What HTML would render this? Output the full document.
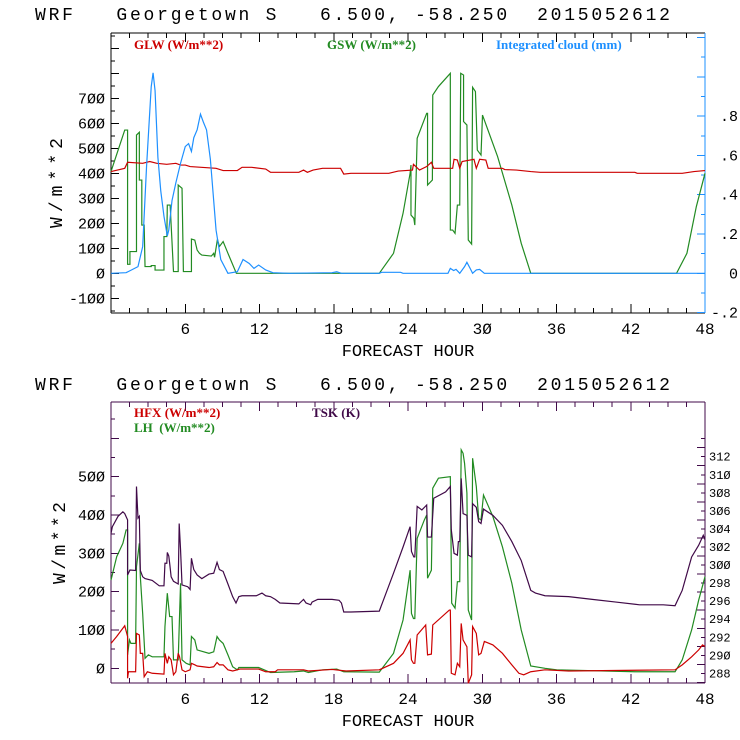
<!DOCTYPE html>
<html><head><meta charset="utf-8"><style>
html,body{margin:0;padding:0;background:#fff;}
svg{display:block;}
text{font-family:"Liberation Mono","DejaVu Sans Mono",monospace;white-space:pre;}
.lg{font-family:"Liberation Serif",serif;font-size:13px;font-weight:bold;}
</style></head>
<body>
<svg id="chart" width="740" height="740" viewBox="0 0 740 740" xmlns="http://www.w3.org/2000/svg" xml:space="preserve">
<rect width="740" height="740" fill="#fff"/>
</svg>
<script>
// ---- data (hour, value) ----
const hourTicks = [6,12,18,24,30,36,42,48];
const topLeftTicks = [-100,0,100,200,300,400,500,600,700];
const topRightTicks = [-0.2,0,0.2,0.4,0.6,0.8];
const topRightLabels = ['-.2','0','.2','.4','.6','.8'];
const botLeftTicks = [0,100,200,300,400,500];
const botRightTicks = [288,290,292,294,296,298,300,302,304,306,308,310,312];

const gswData = [[0,407],[1.11,573],[1.34,573],[1.34,36],[1.53,36],[1.53,87],[2.06,87],[2.06,553],[2.29,564],[2.29,373],[2.49,373],[2.49,193],[2.68,193],[2.75,27],[3.25,27],[3.25,31],[3.56,31],[3.56,13],[4.28,13],[4.28,147],[4.51,147],[4.55,273],[4.78,273],[5.05,7],[5.43,7],[5.43,353],[5.74,340],[5.85,7],[6.5,7],[6.5,137],[6.77,133],[6.96,93],[7.15,80],[7.34,73],[8.11,69],[8.3,80],[8.37,64],[8.6,136],[8.76,107],[9.06,127],[9.45,80],[10.13,0],[21.68,0],[22.83,80],[23.6,240],[24.17,400],[24.24,433],[24.24,233],[24.47,220],[24.55,193],[24.74,540],[25.51,640],[25.58,640],[25.58,353],[25.97,373],[26.0,713],[26.46,747],[27.42,800],[27.42,173],[27.61,173],[27.8,160],[27.99,273],[28.18,273],[28.26,800],[28.49,793],[28.49,607],[28.76,593],[28.87,133],[29.14,117],[29.22,744],[29.45,727],[29.6,493],[29.9,473],[30.02,633],[31.24,467],[32.39,273],[33.15,120],[33.92,0],[45.7,0],[46.54,80],[47.3,267],[48,400]];

const glwData = [[0,407],[1.11,420],[1.34,444],[2.56,440],[3.13,447],[3.7,440],[4.5,436],[5.24,440],[5.62,433],[6.0,433],[6.39,427],[8.49,420],[9.06,411],[10.21,411],[10.59,424],[11.36,424],[12.5,417],[12.89,404],[15.18,404],[15.56,413],[15.87,404],[16.33,413],[17.09,420],[18.55,420],[18.81,397],[19.39,400],[22.45,400],[23.21,409],[24.36,413],[24.44,436],[24.93,413],[25.51,427],[25.89,444],[26.08,420],[27.61,420],[27.72,456],[27.99,453],[28.18,420],[28.37,447],[29.33,456],[29.52,420],[29.79,456],[30.29,453],[30.48,420],[31.63,420],[31.82,415],[32.77,413],[33.92,407],[34.68,404],[42.33,404],[42.52,400],[46.16,400],[47.11,407],[48,411]];

const cloudData = [[0,0],[1.22,0.003],[2.18,0.034],[2.56,0.136],[2.87,0.54],[3.25,0.95],[3.4,1.02],[3.56,0.93],[3.79,0.59],[4.02,0.42],[4.28,0.29],[4.55,0.19],[4.67,0.22],[4.93,0.37],[5.24,0.46],[5.62,0.56],[6.0,0.645],[6.27,0.66],[6.5,0.62],[6.69,0.69],[6.96,0.73],[7.23,0.81],[7.46,0.77],[7.72,0.73],[8.03,0.58],[8.49,0.22],[8.87,0.07],[9.45,0],[10.21,0.008],[10.67,0.07],[11.17,0.05],[11.55,0.025],[11.93,0.042],[12.5,0.017],[13.08,0.003],[14.4,0],[17.86,0.003],[18.24,0.008],[18.62,0],[21.68,0],[21.87,0.005],[23.4,0.005],[23.6,0],[27.23,0],[27.42,0.025],[27.69,0.014],[27.88,0.02],[28.18,0],[28.57,0.034],[28.76,0.056],[29.02,0.025],[29.22,0],[29.52,0.017],[29.79,0.02],[30.17,0],[48,0]];

const tskData = [[0,303.5],[0.11,304.25],[0.57,305.4],[0.96,305.9],[1.11,305.7],[1.34,305.0],[1.34,298.9],[1.53,299.45],[1.99,299.4],[2.06,308.7],[2.18,305.2],[2.29,305.4],[2.37,299.4],[2.56,298.7],[2.75,298.5],[3.33,298.3],[3.9,297.7],[4.28,297.7],[4.36,300.2],[4.51,300.2],[4.55,301.4],[4.67,301.0],[4.74,300.2],[4.86,298.7],[5.05,298.2],[5.43,297.9],[5.51,304.6],[5.62,301.7],[5.74,297.8],[6.2,297.6],[6.39,297.3],[6.5,300.75],[6.69,299.5],[6.96,298.9],[7.34,298.5],[7.92,299],[8.3,299.1],[8.57,300.3],[8.76,299.5],[9.06,299.3],[9.45,297.9],[9.83,296.5],[10.1,295.8],[10.33,296.5],[10.59,296.6],[11.74,296.6],[12.2,296.9],[12.5,296.6],[12.89,296.5],[13.27,296.2],[13.65,295.8],[15.18,295.7],[15.56,296.2],[15.76,295.8],[16.14,295.6],[16.25,295.9],[16.71,296.2],[17.86,296.2],[18.43,296.1],[18.62,295.8],[18.81,294.8],[19.39,294.8],[21.68,294.9],[22.83,299.1],[23.6,302],[24.17,304.25],[24.28,301.5],[24.47,300.9],[24.55,300.9],[24.74,306.5],[25.12,306.1],[25.51,306.65],[25.58,303.1],[25.89,303.1],[26.08,307.4],[27.04,308.1],[27.42,308.7],[27.5,303.9],[27.72,301.3],[27.99,301.1],[28.07,302.6],[28.18,302.6],[28.3,309.6],[28.45,305.7],[28.76,305.5],[28.87,301.1],[29.14,300.9],[29.22,306.8],[29.52,306.4],[29.71,304.8],[29.9,304.6],[30.1,306.2],[30.86,305.5],[31.63,304.4],[32.39,302.6],[33.15,300.5],[33.92,297.2],[34.3,296.9],[35.07,296.6],[36.98,296.5],[38.89,296.2],[40.8,295.9],[42.71,295.6],[44.63,295.6],[45.58,295.5],[46.16,297.2],[46.92,300.9],[47.49,302.2],[47.86,303.3],[48,302.8]];

const lhData = [[0,230],[0.46,291],[0.96,326],[1.22,361],[1.34,361],[1.34,35],[1.49,74],[1.61,65],[1.99,65],[2.06,265],[2.29,326],[2.37,239],[2.56,143],[2.75,26],[3.02,35],[3.33,30],[4.28,30],[4.36,109],[4.55,196],[4.74,135],[4.93,135],[5.05,22],[5.43,22],[5.62,222],[5.74,22],[6.08,13],[6.39,9],[6.5,83],[6.77,74],[6.96,48],[7.92,39],[8.3,43],[8.57,83],[8.76,74],[9.06,65],[9.45,35],[9.83,4],[10.21,-4],[10.33,2],[11.93,2],[12.89,-11],[14.8,-9],[15.56,-7],[15.95,-11],[17.09,-4],[18.24,-2],[18.81,-9],[21.68,-10],[22.83,39],[23.6,126],[24.17,256],[24.28,143],[24.44,130],[24.55,130],[24.74,339],[25.32,387],[25.51,400],[25.58,235],[25.89,256],[26.0,470],[26.46,496],[27.42,500],[27.53,170],[27.8,157],[27.99,226],[28.18,226],[28.3,570],[28.45,561],[28.57,535],[28.76,457],[28.87,152],[29.14,126],[29.22,548],[29.52,474],[29.71,391],[29.9,387],[30.1,452],[30.86,396],[31.63,317],[32.39,222],[33.15,100],[33.92,6],[35.07,0],[36.02,-4],[42.33,-9],[45.58,-9],[46.16,22],[46.92,100],[47.49,178],[48,239]];

const hfxData = [[0,65],[0.46,83],[1.11,111],[1.34,83],[1.34,-26],[1.41,-9],[1.99,-9],[2.06,91],[2.29,87],[2.37,39],[2.56,39],[2.68,-22],[2.94,-9],[3.33,-13],[4.28,-15],[4.36,39],[4.55,13],[4.67,30],[4.86,22],[5.05,-17],[5.24,-9],[5.43,39],[5.54,30],[5.74,-4],[6.0,-9],[6.39,-4],[6.5,13],[6.77,9],[6.96,6],[7.92,2],[8.3,4],[8.57,15],[8.76,9],[9.06,9],[9.45,-4],[9.83,-7],[10.21,-4],[10.4,-2],[11.93,-2],[12.5,-9],[13.27,-9],[13.46,-4],[15.56,-4],[15.95,-7],[17.86,-3],[19.0,-7],[21.68,-4],[22.83,13],[23.6,39],[24.17,74],[24.28,22],[24.44,13],[24.55,13],[24.74,87],[25.43,113],[25.58,35],[25.89,37],[26.0,113],[27.34,152],[27.42,152],[27.5,-13],[27.8,-17],[27.99,13],[28.18,4],[28.3,117],[28.45,74],[28.76,56],[28.87,-39],[29.14,-17],[29.22,109],[29.52,91],[29.71,35],[29.9,39],[30.17,70],[30.86,61],[31.63,39],[32.39,9],[32.96,-13],[33.35,-17],[33.92,-9],[35.07,-4],[36.98,-7],[45.58,-4],[46.16,9],[46.92,30],[47.49,48],[47.8,61],[48,57]];

// ---- scales ----
const X0 = 111, X1 = 705;
const xS = h => X0 + h * (X1 - X0) / 48;
const T = {top:33, bot:313, yL: v => 273.3 - v * 0.25, yR: c => 273.3 - c * 196.5};
const B = {top:402, bot:683, yL: v => 668.3 - v * 0.3833, yR: k => 456.7 - (k - 312) * 9.03};

const svg = document.getElementById('chart');
const NS = 'http://www.w3.org/2000/svg';
function mk(tag, attrs, parent) {
  const e = document.createElementNS(NS, tag);
  for (const k in attrs) e.setAttribute(k, attrs[k]);
  (parent || svg).appendChild(e);
  return e;
}
function line(x1,y1,x2,y2,c,p){ return mk('line',{x1,y1,x2,y2,stroke:c,'stroke-width':1,'shape-rendering':'crispEdges'},p); }
function txt(s,x,y,attrs,p){ const t = mk('text',Object.assign({x,y},attrs),p); t.textContent = s; return t; }
function path(data, yf, color, name, p) {
  const d = data.map((pt,i)=>(i?'L':'M')+xS(pt[0]).toFixed(2)+' '+yf(pt[1]).toFixed(2)).join(' ');
  const e = mk('path',{d,fill:'none',stroke:color,'stroke-width':1.2},p);
  
  
  return e;
}

function panel(P, opts) {
  const g = mk('g',{});
  
  
  const tl = txt('WRF   Georgetown S   6.500, -58.250  2015052612', 35, opts.titleY, {'font-size':18,textLength:635,lengthAdjust:'spacing',fill:'#000'}, g);
  
  
  const c = opts.axisColor, rc = opts.rightColor;
  line(X0,P.top,X1,P.top,c,g); line(X0,P.bot,X1,P.bot,c,g); line(X0,P.top,X0,P.bot,c,g); line(X1,P.top,X1,P.bot,rc,g);
  for (let h = 1.5; h < 48; h += 1.5) {
    const major = Math.abs(h/6 - Math.round(h/6)) < 1e-6;
    const L = major ? 9 : 5;
    line(xS(h),P.bot,xS(h),P.bot-L,c,g);
    line(xS(h),P.top,xS(h),P.top+L,c,g);
  }
  hourTicks.forEach(h => {
    const t = txt(String(h).replace(/0/g,'Ø'), xS(h), P.bot+21, {'font-size':16,'text-anchor':'middle',fill:'#000'}, g);
    
    
  });
  const xt = txt('FORECAST HOUR', 408, P.bot+43, {'font-size':17,'text-anchor':'middle',fill:'#000'}, g);
  
  
  for (let v = opts.lMin; v <= opts.lMax; v += opts.lStep/2) {
    const y = P.yL(v); if (y < P.top || y > P.bot) continue;
    const major = Math.abs(v % opts.lStep) < 1e-6;
    line(X0,y,X0+(major?8:4),y,c,g);
  }
  opts.lTicks.forEach(v => {
    const t = txt(String(v).replace(/0/g,'Ø'), 105, P.yL(v)+5, {'font-size':15,'text-anchor':'end',fill:'#000'}, g);
    
    
  });
  const yt = txt('W / m * * 2', 0, 0, {'font-size':18,'text-anchor':'middle',textLength:opts.ytLen,lengthAdjust:'spacing',fill:'#000',transform:`translate(${opts.ytX},${opts.ytY}) rotate(-90)`}, g);
  
  
  for (let v = opts.rMin; v <= opts.rMax + 1e-9; v += opts.rStep/2) {
    const y = P.yR(v); if (y < P.top-0.5 || y > P.bot+0.5) continue;
    const k = Math.round((v - opts.rMin)/(opts.rStep/2));
    line(X1,y,X1-(k%2===0?8:4),y,rc,g);
  }
  opts.rTicks.forEach((v,i) => {
    const t = txt(opts.rLabels[i], opts.rX, P.yR(v)+opts.rDy, {'font-size':opts.rFs,'text-anchor':opts.rAnchor,fill:'#000'}, g);
    
    
  });
  return g;
}

const gt = panel(T, {name:'radiation-panel', titleY:20, axisColor:'#000', rightColor:'#1e90ff',
  lMin:-150, lMax:950, lStep:100, lTicks:topLeftTicks, ytX:62, ytY:183, ytLen:90,
  rMin:-0.2, rMax:1.2, rStep:0.2, rTicks:topRightTicks, rLabels:topRightLabels, rX:738, rAnchor:'end', rDy:5, rFs:15});
path(gswData, T.yL, '#228b22', 'gsw-line', gt);
path(glwData, T.yL, '#cc0000', 'glw-line', gt);
path(cloudData, T.yR, '#1e90ff', 'integrated-cloud-line', gt);
[['GLW (W/m**2)',134,49,'#cc0000','legend-glw'],['GSW (W/m**2)',327,49,'#228b22','legend-gsw'],['Integrated cloud (mm)',496,49,'#1e90ff','legend-cloud']].forEach(a=>{
  const t = txt(a[0],a[1],a[2],{class:'lg',fill:a[3]},gt);
  
  
});

const botRightLabels = botRightTicks.map(k => String(k).replace(/0/g,'Ø'));
const gb = panel(B, {name:'flux-panel', titleY:390, axisColor:'#400a48', rightColor:'#400a48',
  lMin:-50, lMax:750, lStep:100, lTicks:botLeftTicks, ytX:65, ytY:543, ytLen:82,
  rMin:287, rMax:314, rStep:2, rTicks:botRightTicks, rLabels:botRightLabels, rX:709, rAnchor:'start', rDy:4, rFs:12});
path(lhData, B.yL, '#228b22', 'lh-line', gb);
path(hfxData, B.yL, '#cc0000', 'hfx-line', gb);
path(tskData, B.yR, '#400a48', 'tsk-line', gb);
[['HFX (W/m**2)',134,417,'#cc0000','legend-hfx'],['LH  (W/m**2)',134,432,'#228b22','legend-lh'],['TSK (K)',312,417,'#400a48','legend-tsk']].forEach(a=>{
  const t = txt(a[0],a[1],a[2],{class:'lg',fill:a[3]},gb);
  
  
});
</script>
</body></html>
